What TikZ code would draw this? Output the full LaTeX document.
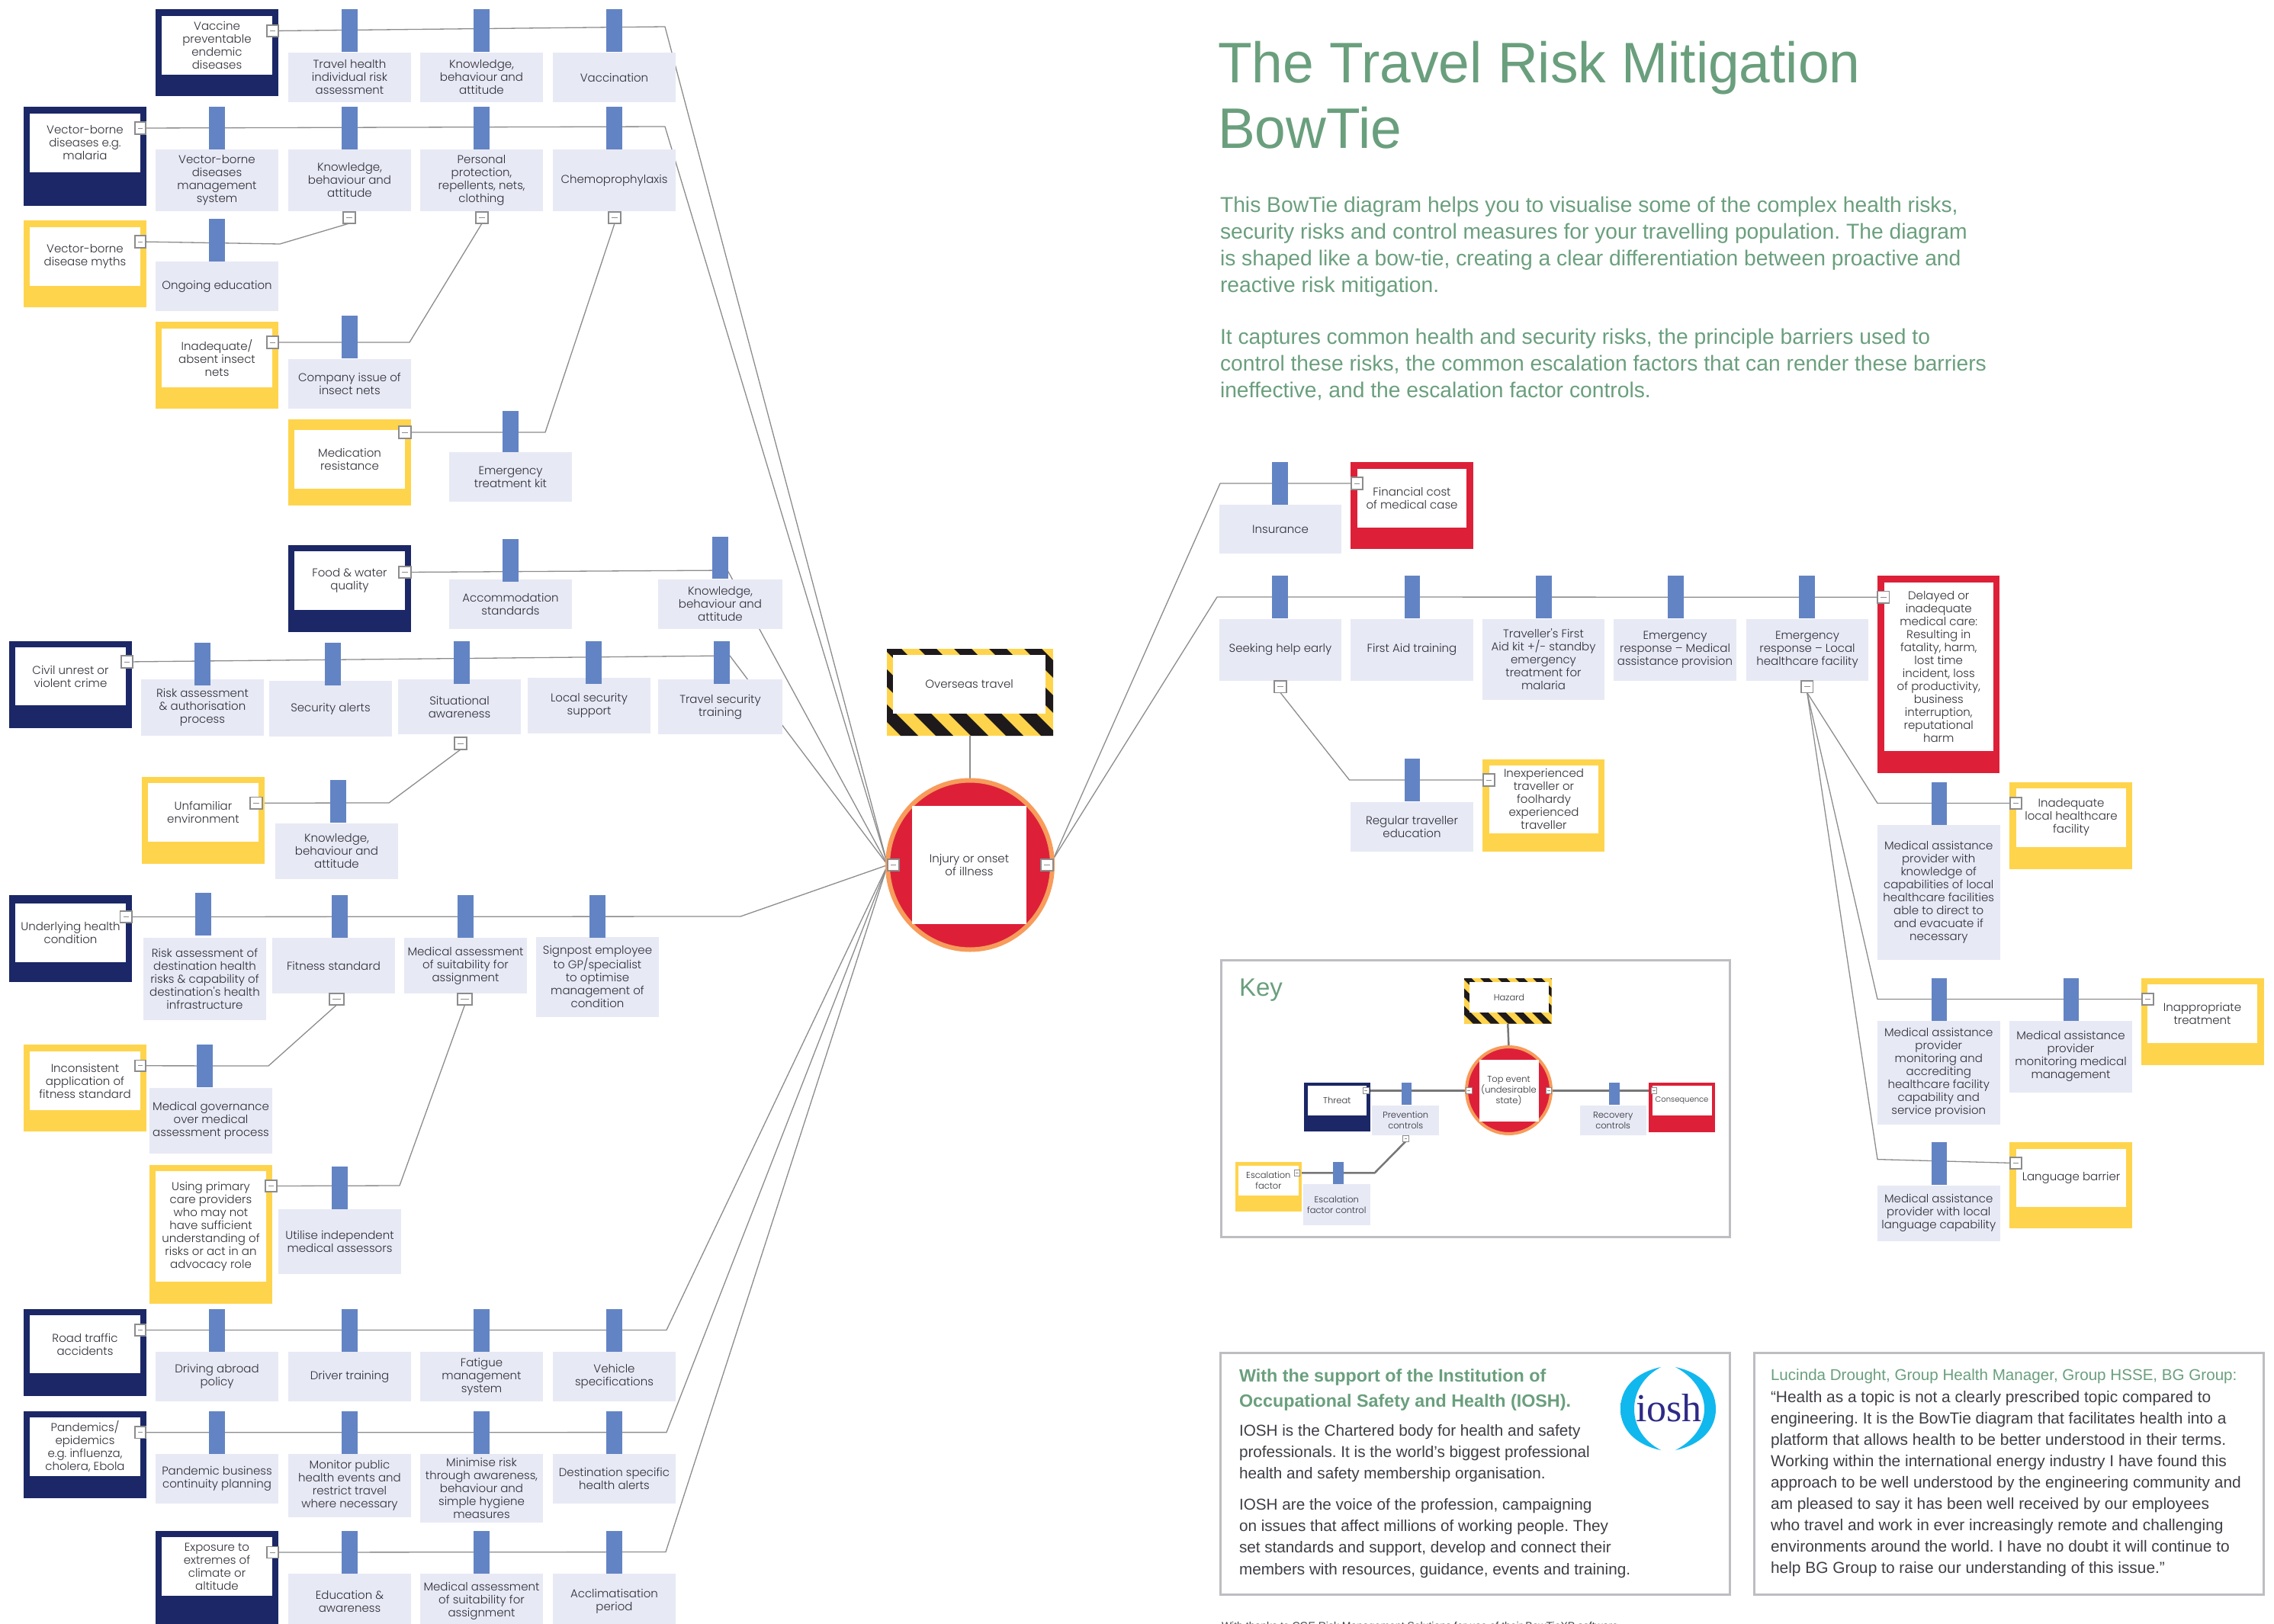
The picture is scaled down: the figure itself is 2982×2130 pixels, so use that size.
\documentclass[tikz,border=0pt]{standalone}
\usepackage{fontspec}
\setmainfont{Liberation Sans}
\newfontfamily\boxfont{Poppins Light}
\newfontfamily\titlefont[FakeStretch=0.975]{Liberation Sans}
\usetikzlibrary{shapes.geometric}
\pgfdeclarelayer{fl}\pgfdeclarelayer{bg}\pgfsetlayers{fl,bg,main}
\definecolor{navy}{HTML}{1B2766}
\definecolor{amber}{HTML}{FFD44D}
\definecolor{scarlet}{HTML}{DD2038}
\definecolor{barblue}{HTML}{6384C4}
\definecolor{pale}{HTML}{E7E9F5}
\definecolor{ringc}{HTML}{F79C5B}
\definecolor{txt}{HTML}{2F2F37}
\definecolor{bodytxt}{HTML}{3E3E46}
\definecolor{leaf}{HTML}{6A9F7D}
\definecolor{hazdark}{HTML}{1E1A1C}
\definecolor{frm}{HTML}{BDBDC2}
\definecolor{lnc}{HTML}{8C8C8C}
\definecolor{logoblue}{HTML}{2E2A86}
\definecolor{logocy}{HTML}{10B8EE}
\definecolor{logopale}{HTML}{DCF2FB}
\tikzset{
 bx/.style={inner sep=0pt,outer sep=0pt,align=center,text=txt,font=\boxfont\frenchspacing\fontsize{15}{17}\selectfont},
 navyb/.style={bx,fill=navy},
 amberb/.style={bx,fill=amber},
 redb/.style={bx,fill=scarlet},
 inner/.style={bx,fill=white},
 label/.style={bx,fill=pale},
 barb/.style={bx,fill=barblue},
 ktext/.style={font=\boxfont\fontsize{11.5}{14}\selectfont},
 btnb/.style={bx,fill=white,draw=lnc,line width=1.3pt,path picture={\draw[lnc,line width=1pt] ([xshift=4pt]path picture bounding box.west) -- ([xshift=-4pt]path picture bounding box.east);}},
 kbtn/.style={bx,fill=white,draw=lnc,line width=0.8pt,path picture={\draw[lnc,line width=0.8pt] ([xshift=2pt]path picture bounding box.west) -- ([xshift=-2pt]path picture bounding box.east);}},
 conn/.style={draw=lnc,line width=1.3pt,line join=round},
 kconn/.style={draw=lnc!85!black,line width=2.5pt,line join=round},
 frameb/.style={inner sep=0pt,outer sep=0pt,draw=frm,line width=3pt,fill=white},
 para/.style={inner sep=0pt,outer sep=0pt,anchor=north west,align=left},
}
\newcommand\bnode[7][]{%
 \pgfmathsetmacro\bnw{#5-#3}\pgfmathsetmacro\bnh{#6-#4}%
 \pgfmathsetmacro\bncx{(#3+#5)/2}\pgfmathsetmacro\bncy{(#4+#6)/2}%
 \node[minimum width=\bnw pt,minimum height=\bnh pt,#1] (#2) at (\bncx,\bncy) {#7};}
\newcommand\stripes[6]{%
 \begin{scope}\clip (#1,#2) rectangle (#3,#4);
 \foreach \k in {-6,...,10} {\fill[hazdark] ({#1+#6+\k*#5},#2) -- ++({#5/2},0) -- ++({#4-#2},{#4-#2}) -- ++({-#5/2},0) -- cycle;}
 \end{scope}}
\begin{document}
\begin{tikzpicture}[x=1pt,y=-1pt]
\frenchspacing
\useasboundingbox (0,0) rectangle (2982,2130);
% ---- threat 1
\bnode[navyb]{t1o}{204}{12}{365}{126}{}
\bnode[inner]{t1}{212}{21}{357}{98}{Vaccine\\preventable\\endemic\\diseases}
\bnode[btnb]{t1b}{350}{33}{365}{48}{}
\bnode[label]{c1a}{378}{69}{539}{134}{Travel health\\individual risk\\assessment}
\bnode[label]{c1b}{551}{69}{712}{134}{Knowledge,\\behaviour and\\attitude}
\bnode[label]{c1c}{725}{69}{886}{134}{Vaccination}
\bnode[barb]{b1a}{448}{12}{469}{68}{}
\bnode[barb]{b1b}{621}{12}{642}{68}{}
\bnode[barb]{b1c}{795}{12}{816}{68}{}
% ---- threat 2
\bnode[navyb]{t2o}{31}{140}{192}{270}{}
\bnode[inner]{t2}{39}{149}{184}{225.5}{Vector-borne\\diseases e.g.\\malaria}
\bnode[btnb]{t2b}{177}{160}{191}{176}{}
\bnode[label]{c2a}{204}{196}{365}{277}{Vector-borne\\diseases\\management\\system}
\bnode[label]{c2b}{378}{196}{539}{277}{Knowledge,\\behaviour and\\attitude}
\bnode[label]{c2c}{551}{196}{712}{277}{Personal\\protection,\\repellents, nets,\\clothing}
\bnode[label]{c2d}{725}{196}{886}{277}{Chemoprophylaxis}
\bnode[barb]{b2a}{274}{140}{295}{196}{}
\bnode[barb]{b2b}{448}{140}{469}{196}{}
\bnode[barb]{b2c}{621}{140}{642}{196}{}
\bnode[barb]{b2d}{795}{140}{816}{196}{}
\bnode[btnb]{c2bb}{450}{278}{466}{293}{}
\bnode[btnb]{c2cb}{624}{278}{640}{293}{}
\bnode[btnb]{c2db}{798}{278}{814}{293}{}
% ---- esc myths
\bnode[amberb]{e1o}{31}{289}{192}{403}{}
\bnode[inner]{e1}{39}{298}{184}{374.5}{Vector-borne\\disease myths}
\bnode[btnb]{e1b}{177}{309}{191}{325}{}
\bnode[barb]{b3a}{274}{287}{295}{343}{}
\bnode[label]{c3a}{204}{343}{365}{408}{Ongoing education}
% ---- inadequate nets
\bnode[amberb]{e2o}{204}{422}{365}{536}{}
\bnode[inner]{e2}{212}{431}{357}{507.5}{Inadequate/\\absent insect\\nets}
\bnode[btnb]{e2b}{350}{441}{365}{457}{}
\bnode[barb]{b4a}{448}{414}{469}{470}{}
\bnode[label]{c4a}{378}{471}{539}{536}{Company issue of\\insect nets}
% ---- medication
\bnode[amberb]{e3o}{378}{550}{539}{663}{}
\bnode[inner]{e3}{386}{564}{531}{641}{Medication\\resistance}
\bnode[btnb]{e3b}{523}{559}{539}{575}{}
\bnode[barb]{b5a}{659}{539}{680}{595}{}
\bnode[label]{c5a}{589}{593}{750}{658}{Emergency\\treatment kit}
% ---- food
\bnode[navyb]{t3o}{378}{715}{539}{829}{}
\bnode[inner]{t3}{386}{723}{531}{800}{Food \& water\\quality}
\bnode[btnb]{t3b}{523}{743}{539}{758}{}
\bnode[label]{c6a}{589}{760}{750}{825}{Accommodation\\standards}
\bnode[label]{c6b}{863}{760}{1026}{825}{Knowledge,\\behaviour and\\attitude}
\bnode[barb]{b6a}{659}{707}{680}{762.5}{}
\bnode[barb]{b6b}{934}{704}{955}{759}{}
% ---- civil
\bnode[navyb]{t4o}{12}{841}{173}{954.5}{}
\bnode[inner]{t4}{20}{849}{165}{925}{Civil unrest or\\violent crime}
\bnode[btnb]{t4b}{159}{860}{174}{876}{}
\bnode[label]{c7a}{185}{891}{346}{965}{Risk assessment\\\& authorisation\\process}
\bnode[label]{c7b}{353}{893}{514}{966}{Security alerts}
\bnode[label]{c7c}{522}{891}{683}{963}{Situational\\awareness}
\bnode[label]{c7d}{692}{889}{853}{962}{Local security\\support}
\bnode[label]{c7e}{863}{891}{1026}{963}{Travel security\\training}
\bnode[barb]{b7a}{255}{843}{276}{899}{}
\bnode[barb]{b7b}{426}{843}{447}{899}{}
\bnode[barb]{b7c}{595}{841}{616}{897}{}
\bnode[barb]{b7d}{768}{841}{789}{897}{}
\bnode[barb]{b7e}{936}{841}{957}{897}{}
\bnode[btnb]{c7cb}{596}{967}{612}{983}{}
% ---- unfamiliar
\bnode[amberb]{e4o}{186}{1019}{347}{1133}{}
\bnode[inner]{e4}{194}{1027}{339}{1104}{Unfamiliar\\environment}
\bnode[btnb]{e4b}{328}{1045.5}{344}{1061}{}
\bnode[barb]{b8a}{433}{1023}{454}{1079}{}
\bnode[label]{c8a}{361}{1080}{522}{1153}{Knowledge,\\behaviour and\\attitude}
% ---- underlying
\bnode[navyb]{t5o}{12}{1174}{173}{1287.5}{}
\bnode[inner]{t5}{20}{1185}{165}{1261.5}{Underlying health\\condition}
\bnode[btnb]{t5b}{157.5}{1195}{173}{1210}{}
\bnode[label]{c9a}{188}{1230}{349}{1337.5}{Risk assessment of\\destination health\\risks \& capability of\\destination's health\\infrastructure}
\bnode[label]{c9b}{357}{1230}{518}{1303}{Fitness standard}
\bnode[label]{c9c}{530}{1230}{691}{1303}{Medical assessment\\of suitability for\\assignment}
\bnode[label]{c9d}{703}{1229}{864}{1333.5}{Signpost employee\\to GP/specialist\\to optimise\\management of\\condition}
\bnode[barb]{b9a}{256}{1171}{277}{1227}{}
\bnode[barb]{b9b}{435}{1174}{456}{1230}{}
\bnode[barb]{b9c}{600}{1174}{621}{1230}{}
\bnode[barb]{b9d}{773}{1174}{794}{1230}{}
\bnode[btnb]{c9bb}{432}{1303}{451}{1318}{}
\bnode[btnb]{c9cb}{600}{1303}{619}{1318}{}
% ---- inconsistent
\bnode[amberb]{e5o}{31}{1370}{192}{1484}{}
\bnode[inner]{e5}{39}{1379}{184}{1456}{Inconsistent\\application of\\fitness standard}
\bnode[btnb]{e5b}{177}{1390.6}{191}{1405}{}
\bnode[barb]{b10a}{258}{1370}{279}{1426}{}
\bnode[label]{c10a}{196}{1427}{357}{1513}{Medical governance\\over medical\\assessment process}
% ---- using primary
\bnode[amberb]{e6o}{196}{1528}{357}{1710}{}
\bnode[inner]{e6}{204}{1536}{349}{1681}{Using primary\\care providers\\who may not\\have sufficient\\understanding of\\risks or act in an\\advocacy role}
\bnode[btnb]{e6b}{348}{1548}{363}{1563}{}
\bnode[barb]{b11a}{435}{1530}{456}{1586}{}
\bnode[label]{c11a}{365}{1586}{526}{1671}{Utilise independent\\medical assessors}
% ---- road
\bnode[navyb]{t6o}{31}{1717}{192}{1831}{}
\bnode[inner]{t6}{39}{1725}{184}{1801}{Road traffic\\accidents}
\bnode[btnb]{t6b}{177}{1737}{191}{1752}{}
\bnode[label]{c12a}{204}{1773}{365}{1838}{Driving abroad\\policy}
\bnode[label]{c12b}{378}{1773}{539}{1838}{Driver training}
\bnode[label]{c12c}{551}{1773}{712}{1838}{Fatigue\\management\\system}
\bnode[label]{c12d}{725}{1773}{886}{1838}{Vehicle\\specifications}
\bnode[barb]{b12a}{274}{1717}{295}{1773}{}
\bnode[barb]{b12b}{448}{1717}{469}{1773}{}
\bnode[barb]{b12c}{621}{1717}{642}{1773}{}
\bnode[barb]{b12d}{795}{1717}{816}{1773}{}
% ---- pandemics
\bnode[navyb]{t7o}{31}{1851}{192}{1965}{}
\bnode[inner]{t7}{39}{1859}{184}{1935.5}{Pandemics/\\epidemics\\e.g. influenza,\\cholera, Ebola}
\bnode[btnb]{t7b}{177}{1871}{191}{1886.5}{}
\bnode[label]{c13a}{204}{1907}{365}{1972}{Pandemic business\\continuity planning}
\bnode[label]{c13b}{378}{1907}{539}{1990}{Monitor public\\health events and\\restrict travel\\where necessary}
\bnode[label]{c13c}{551}{1907}{712}{1997}{Minimise risk\\through awareness,\\behaviour and\\simple hygiene\\measures}
\bnode[label]{c13d}{725}{1907}{886}{1972}{Destination specific\\health alerts}
\bnode[barb]{b13a}{274}{1851}{295}{1907}{}
\bnode[barb]{b13b}{448}{1851}{469}{1907}{}
\bnode[barb]{b13c}{621}{1851}{642}{1907}{}
\bnode[barb]{b13d}{795}{1851}{816}{1907}{}
% ---- exposure
\bnode[navyb]{t8o}{204}{2008}{365}{2136}{}
\bnode[inner]{t8}{212}{2016}{357}{2093}{Exposure to\\extremes of\\climate or\\altitude}
\bnode[btnb]{t8b}{350}{2028.5}{365}{2043.5}{}
\bnode[label]{c14a}{378}{2064}{539}{2136}{Education \&\\awareness}
\bnode[label]{c14b}{551}{2064}{712}{2136}{Medical assessment\\of suitability for\\assignment}
\bnode[label]{c14c}{725}{2064}{886}{2136}{Acclimatisation\\period}
\bnode[barb]{b14a}{448}{2008}{469}{2064}{}
\bnode[barb]{b14b}{621}{2008}{642}{2064}{}
\bnode[barb]{b14c}{795}{2008}{816}{2064}{}
% ---- hazard and top event
\bnode[amberb]{hzo}{1163}{851}{1381}{965}{}
\stripes{1163}{851}{1381}{965}{46}{-4}
\bnode[inner]{hz}{1171}{859}{1371}{936}{Overseas travel}
\node[bx,shape=ellipse,fill=scarlet,draw=ringc,line width=6pt,minimum width=216pt,minimum height=222pt] (teo) at (1272,1134.5) {};
\bnode[inner]{te}{1196}{1057}{1346}{1212}{Injury or onset\\of illness}
\bnode[btnb]{hl}{1164}{1127}{1179}{1142}{}
\bnode[btnb]{hr}{1365}{1127}{1381}{1142}{}
% ---- recovery side
\bnode[label]{r1a}{1599}{662}{1759}{726}{Insurance}
\bnode[barb]{r1b}{1668}{606}{1689}{662}{}
\bnode[redb]{q1o}{1771}{606}{1932}{720}{}
\bnode[inner]{q1}{1780}{615}{1923}{692}{Financial cost\\of medical case}
\bnode[btnb]{q1b}{1772}{626}{1787}{642}{}
\bnode[label]{r2a}{1599}{812}{1759}{892.5}{Seeking help early}
\bnode[label]{r2b}{1771}{812}{1932}{892.5}{First Aid training}
\bnode[label]{r2c}{1944}{812}{2104}{917.5}{Traveller's First\\Aid kit +/- standby\\emergency\\treatment for\\malaria}
\bnode[label]{r2d}{2116}{812}{2277}{892.5}{Emergency\\response – Medical\\assistance provision}
\bnode[label]{r2e}{2290}{812}{2450}{892.5}{Emergency\\response – Local\\healthcare facility}
\bnode[barb]{s2a}{1668}{755}{1689}{811}{}
\bnode[barb]{s2b}{1842}{755}{1862}{811}{}
\bnode[barb]{s2c}{2014}{755}{2035}{811}{}
\bnode[barb]{s2d}{2187}{755}{2208}{811}{}
\bnode[barb]{s2e}{2359}{755}{2380}{811}{}
\bnode[redb]{q2o}{2461.5}{755}{2621.5}{1013.5}{}
\bnode[inner]{q2}{2470.5}{764}{2614}{984.5}{Delayed or\\inadequate\\medical care:\\Resulting in\\fatality, harm,\\lost time\\incident, loss\\of productivity,\\business\\interruption,\\reputational\\harm}
\bnode[btnb]{q2b}{2462}{775.5}{2477.5}{791}{}
\bnode[btnb]{r2ab}{1671}{893}{1687}{908.5}{}
\bnode[btnb]{r2eb}{2362}{893}{2377.5}{908.5}{}
\bnode[barb]{s3a}{1842}{995}{1862}{1051}{}
\bnode[label]{r3a}{1771}{1052}{1932}{1116.6}{Regular traveller\\education}
\bnode[amberb]{f1o}{1944}{996}{2104}{1116.6}{}
\bnode[inner]{f1}{1953}{1004}{2096}{1092.5}{Inexperienced\\traveller or\\foolhardy\\experienced\\traveller}
\bnode[btnb]{f1b}{1945}{1015}{1960}{1031}{}
\bnode[barb]{s4a}{2533}{1026}{2553}{1081.6}{}
\bnode[label]{r4a}{2462}{1082}{2622.5}{1258.7}{Medical assistance\\provider with\\knowledge of\\capabilities of local\\healthcare facilities\\able to direct to\\and evacuate if\\necessary}
\bnode[amberb]{f2o}{2635}{1026}{2796}{1139.5}{}
\bnode[inner]{f2}{2644}{1034}{2788}{1110.6}{Inadequate\\local healthcare\\facility}
\bnode[btnb]{f2b}{2636}{1046}{2651}{1061}{}
\bnode[barb]{s5a}{2533}{1283}{2553}{1338.6}{}
\bnode[barb]{s5b}{2706}{1283}{2726}{1338.6}{}
\bnode[label]{r5a}{2462}{1339}{2622.5}{1474.5}{Medical assistance\\provider\\monitoring and\\accrediting\\healthcare facility\\capability and\\service provision}
\bnode[label]{r5b}{2635}{1339}{2796}{1432.5}{Medical assistance\\provider\\monitoring medical\\management}
\bnode[amberb]{f3o}{2808}{1283}{2969}{1396.6}{}
\bnode[inner]{f3}{2816}{1291}{2960}{1368}{Inappropriate\\treatment}
\bnode[btnb]{f3b}{2809}{1303}{2824}{1318}{}
\bnode[barb]{s6a}{2533}{1498}{2553}{1553.6}{}
\bnode[label]{r6a}{2462}{1555}{2622.5}{1627.5}{Medical assistance\\provider with local\\language capability}
\bnode[amberb]{f4o}{2635}{1498}{2796}{1611}{}
\bnode[inner]{f4}{2644}{1507}{2788}{1583.4}{Language barrier}
\bnode[btnb]{f4b}{2636}{1518}{2651}{1533}{}
% ---- title
\node[para,text=leaf,font=\titlefont\fontsize{75}{85.7}\selectfont] (title) at (1597,54) {The Travel Risk Mitigation\\BowTie};
\node[para,text=leaf,font=\frenchspacing\fontsize{28.25}{34.7}\selectfont] (intro1) at (1600,258.5) {This BowTie diagram helps you to visualise some of the complex health risks,\\security risks and control measures for your travelling population. The diagram\\is shaped like a bow-tie, creating a clear differentiation between proactive and\\reactive risk mitigation.};
\node[para,text=leaf,font=\frenchspacing\fontsize{28.25}{34.7}\selectfont] (intro2) at (1600,431.5) {It captures common health and security risks, the principle barriers used to\\control these risks, the common escalation factors that can render these barriers\\ineffective, and the escalation factor controls.};
% ---- key
\begin{pgfonlayer}{fl}
\bnode[frameb]{keyf}{1601}{1259}{2268}{1622}{}
\end{pgfonlayer}
\node[para,text=leaf,font=\fontsize{33}{38}\selectfont] (keyt) at (1625,1284) {Key};
\bnode[amberb]{khzo}{1920}{1283}{2034.5}{1342.7}{}
\stripes{1920}{1283}{2034.5}{1342.7}{23}{-2}
\bnode[inner,ktext]{khz}{1927}{1288}{2031}{1327.7}{Hazard}
\node[bx,shape=ellipse,fill=scarlet,draw=ringc,line width=4pt,minimum width=111pt,minimum height=114pt] (kteo) at (1978.5,1430) {};
\bnode[inner,ktext]{kte}{1939.6}{1390}{2017.5}{1471}{Top event\\(undesirable\\state)}
\bnode[kbtn]{kl}{1922}{1426.3}{1930}{1434.3}{}
\bnode[kbtn]{kr}{2027}{1426.3}{2034.5}{1434.3}{}
\bnode[navyb]{kto}{1710}{1420}{1797}{1484}{}
\bnode[inner,ktext]{kt}{1714.5}{1424}{1792}{1462.7}{Threat}
\bnode[kbtn]{ktb}{1787}{1426.3}{1795}{1434.3}{}
\bnode[barb]{kb1}{1838}{1420}{1851}{1449}{}
\bnode[label,ktext]{kl1}{1799.4}{1450}{1887}{1488.7}{Prevention\\controls}
\bnode[kbtn]{kl1b}{1839.6}{1489}{1847}{1497}{}
\bnode[barb]{kb2}{2109.5}{1420}{2123.6}{1449}{}
\bnode[label,ktext]{kl2}{2071.7}{1450}{2158.6}{1488.7}{Recovery\\controls}
\bnode[redb]{kqo}{2162}{1420}{2248.7}{1485}{}
\bnode[inner,ktext,font=\boxfont\fontsize{10}{12}\selectfont]{kq}{2166.6}{1424}{2244.5}{1462.7}{Consequence}
\bnode[kbtn]{kqb}{2165}{1426.3}{2172.7}{1434.3}{}
\bnode[amberb]{keo}{1619.6}{1524}{1706.5}{1589}{}
\bnode[inner,ktext]{ke}{1624}{1529}{1702.7}{1567.7}{Escalation\\factor}
\bnode[kbtn]{keb}{1697}{1534.3}{1704.6}{1542.3}{}
\bnode[barb]{kb3}{1747.5}{1524}{1761.7}{1553}{}
\bnode[label,ktext]{kl3}{1709}{1553}{1796.6}{1606.7}{Escalation\\factor control}
% ---- bottom panels
\bnode[frameb]{p1}{1600}{1774}{2268}{2091.7}{}
\bnode[frameb]{p2}{2300}{1774}{2968}{2091.7}{}
\node[para,text=leaf,font=\bfseries\frenchspacing\fontsize{23.3}{33}\selectfont] (p1h) at (1625,1796) {With the support of the Institution of\\Occupational Safety and Health (IOSH).};
\node[para,text=bodytxt,font=\frenchspacing\fontsize{20.7}{28.4}\selectfont] (p1a) at (1625,1868) {IOSH is the Chartered body for health and safety\\professionals. It is the world's biggest professional\\health and safety membership organisation.};
\node[para,text=bodytxt,font=\frenchspacing\fontsize{20.7}{28.4}\selectfont] (p1c) at (1625,1965) {IOSH are the voice of the profession, campaigning\\on issues that affect millions of working people. They\\set standards and support, develop and connect their\\members with resources, guidance, events and training.};
\node[para,text=leaf,font=\frenchspacing\fontsize{20.6}{28}\selectfont] (p2h) at (2322,1796) {Lucinda Drought, Group Health Manager, Group HSSE, BG Group:};
\node[para,text=bodytxt,font=\frenchspacing\fontsize{20.9}{28}\selectfont] (p2a) at (2322,1824) {“Health as a topic is not a clearly prescribed topic compared to\\engineering. It is the BowTie diagram that facilitates health into a\\platform that allows health to be better understood in their terms.\\Working within the international energy industry I have found this\\approach to be well understood by the engineering community and\\am pleased to say it has been well received by our employees\\who travel and work in ever increasingly remote and challenging\\environments around the world. I have no doubt it will continue to\\help BG Group to raise our understanding of this issue.”};
\node[para,text=bodytxt,font=\frenchspacing\fontsize{14}{17}\selectfont] (foot) at (1602,2127) {With thanks to CGE Risk Management Solutions for use of their BowTieXP software};
% ---- iosh logo
\shade[top color=logocy,middle color=logopale,bottom color=logocy] (2178,1793) .. controls (2145,1800) and (2125,1820) .. (2125,1848) .. controls (2125,1875) and (2145,1895) .. (2178,1902) .. controls (2155,1890) and (2143,1870) .. (2143,1848) .. controls (2143,1826) and (2155,1805) .. (2178,1793) -- cycle;
\shade[top color=logocy,middle color=logopale,bottom color=logocy] (2197,1793) .. controls (2230,1800) and (2250,1820) .. (2250,1848) .. controls (2250,1875) and (2230,1895) .. (2197,1902) .. controls (2220,1890) and (2235,1870) .. (2235,1848) .. controls (2235,1826) and (2220,1805) .. (2197,1793) -- cycle;
\node[inner sep=0pt,anchor=base,text=logoblue,font=\fontspec{Liberation Serif}\fontsize{52}{52}\selectfont] (ioshlogo) at (2188.5,1864) {iosh};
% ---- connectors
\coordinate (a1) at (872,35);
\coordinate (a2) at (872,166);
\coordinate (a3) at (367,320);
\coordinate (a4) at (537,449);
\coordinate (a5) at (715,567);
\coordinate (a6) at (954,748);
\coordinate (a7) at (957,860);
\coordinate (a8) at (510,1053);
\coordinate (a9) at (971,1202);
\coordinate (a10) at (352,1398);
\coordinate (a11) at (524,1555);
\coordinate (a12) at (874,1744.5);
\coordinate (a13) at (874,1878.6);
\coordinate (a14) at (873,2035.5);
\coordinate (d1) at (1600,634);
\coordinate (d2) at (1596,783);
\coordinate (d3) at (1769.5,1023);
\coordinate (d4) at (2462,1053.5);
\coordinate (d5) at (2462,1310.5);
\coordinate (d6) at (2462,1520.6);
\coordinate (kd1) at (1802.7,1538.3);
\begin{pgfonlayer}{bg}
\draw[conn] (t1b.center) -- (a1) -- (hl.west);
\draw[conn] (t2b.center) -- (a2) -- (hl.west);
\draw[conn] (e1b.center) -- (a3) -- (c2bb.south);
\draw[conn] (e2b.center) -- (a4) -- (c2cb.south);
\draw[conn] (e3b.center) -- (a5) -- (c2db.south);
\draw[conn] (t3b.center) -- (a6) -- (hl.west);
\draw[conn] (t4b.center) -- (a7) -- (hl.west);
\draw[conn] (e4b.center) -- (a8) -- (c7cb.south);
\draw[conn] (t5b.center) -- (a9) -- (hl.west);
\draw[conn] (e5b.center) -- (a10) -- (c9bb.south);
\draw[conn] (e6b.center) -- (a11) -- (c9cb.south);
\draw[conn] (t6b.center) -- (a12) -- (hl.west);
\draw[conn] (t7b.center) -- (a13) -- (hl.west);
\draw[conn] (t8b.center) -- (a14) -- (hl.west);
\draw[conn] (hzo.south) -- (teo.north);
\draw[conn] (hr.north east) -- (d1) -- (q1b.center);
\draw[conn] (hr.north east) -- (d2) -- (q2b.center);
\draw[conn] (r2ab.south) -- (d3) -- (f1b.center);
\draw[conn] (r2eb.south) -- (d4) -- (f2b.center);
\draw[conn] (r2eb.south) -- (d5) -- (f3b.center);
\draw[conn] (r2eb.south) -- (d6) -- (f4b.center);
\draw[kconn] (khzo.south) -- (kteo.north);
\draw[kconn] (ktb.east) -- (kl.west);
\draw[kconn] (kr.east) -- (kqb.west);
\draw[kconn] (keb.east) -- (kd1) -- (kl1b.south);
\end{pgfonlayer}
\end{tikzpicture}
\end{document}
